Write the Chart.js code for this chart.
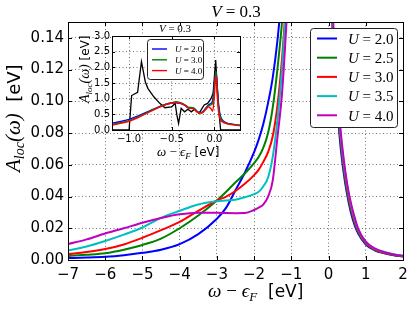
<!DOCTYPE html>
<html>
<head>
<meta charset="utf-8">
<script src="https://cdn.jsdelivr.net/npm/chart.js@4.4.1/dist/chart.umd.min.js"></script>
<style>
body{margin:0;background:#fff;}
#wrap{position:relative;width:415px;height:310px;}
#main{position:absolute;left:0;top:0;}
#inset{position:absolute;left:60px;top:15px;}
</style>
</head>
<body>
<div id="wrap">
<canvas id="main" width="415" height="310"></canvas>
<canvas id="inset" width="190" height="150"></canvas>
</div>
<script>
// main panel: omega grid and A_loc for each U
const omega = [-7, -6.5, -6, -5.5, -5, -4.5, -4, -3.5, -3, -2.75, -2.5, -2.25, -2, -1.875, -1.75, -1.625, -1.5, -1.375, -1.25, -1.125, -1, -0.5, 0, 0.1, 0.2, 0.3, 0.4, 0.5, 0.6, 0.7, 0.8, 1.0, 1.25, 1.5, 1.75, 2.0];
const uValues = [2.0, 2.5, 3.0, 3.5, 4.0];
const aU20 = [0.0012, 0.0015, 0.002, 0.003, 0.0045, 0.0065, 0.010, 0.0163, 0.026, 0.033, 0.044, 0.055, 0.068, 0.076, 0.086, 0.099, 0.115, 0.138, 0.17, 0.21, 0.27, 0.5, 0.5, 0.155, 0.11, 0.077, 0.056, 0.041, 0.030, 0.022, 0.0165, 0.0098, 0.006, 0.0042, 0.003, 0.0022];
const aU25 = [0.0025, 0.0033, 0.0043, 0.0065, 0.0095, 0.0135, 0.020, 0.028, 0.0375, 0.043, 0.049, 0.0545, 0.061, 0.065, 0.071, 0.080, 0.096, 0.12, 0.15, 0.19, 0.25, 0.5, 0.5, 0.16, 0.115, 0.081, 0.059, 0.043, 0.032, 0.0235, 0.0175, 0.0103, 0.0063, 0.0044, 0.0031, 0.0023];
const aU30 = [0.0037, 0.005, 0.0069, 0.0098, 0.014, 0.0188, 0.024, 0.031, 0.0375, 0.040, 0.0435, 0.048, 0.0535, 0.057, 0.062, 0.068, 0.078, 0.097, 0.127, 0.17, 0.23, 0.5, 0.5, 0.165, 0.118, 0.083, 0.061, 0.045, 0.033, 0.0245, 0.018, 0.0107, 0.0066, 0.0046, 0.0033, 0.0024];
const aU35 = [0.006, 0.0085, 0.012, 0.016, 0.0205, 0.0265, 0.031, 0.035, 0.037, 0.0375, 0.038, 0.0395, 0.0415, 0.043, 0.0465, 0.052, 0.065, 0.088, 0.12, 0.165, 0.22, 0.5, 0.5, 0.17, 0.122, 0.086, 0.063, 0.047, 0.035, 0.026, 0.019, 0.0113, 0.007, 0.005, 0.0036, 0.0027];
const aU40 = [0.010, 0.013, 0.0167, 0.020, 0.0235, 0.0265, 0.0288, 0.0298, 0.0298, 0.0296, 0.0295, 0.0296, 0.0315, 0.033, 0.035, 0.040, 0.050, 0.077, 0.105, 0.152, 0.21, 0.5, 0.5, 0.175, 0.125, 0.088, 0.065, 0.048, 0.036, 0.027, 0.0195, 0.0115, 0.0071, 0.0049, 0.0035, 0.0026];
const xTicks = [-7, -6, -5, -4, -3, -2, -1, 0, 1, 2];
const yTicks = [0, 0.02, 0.04, 0.06, 0.08, 0.10, 0.12, 0.14];

// inset panel
const insetOmega = [-1.2, -1.1, -1.0, -0.9, -0.8, -0.7, -0.6, -0.5, -0.45, -0.4, -0.35, -0.3, -0.25, -0.2, -0.15, -0.1, -0.07, -0.04, -0.02, 0.0, 0.01, 0.02, 0.03, 0.05, 0.07, 0.1, 0.15, 0.2, 0.3];
const insetU = [2.0, 3.0, 4.0];
const inU20 = [0.21, 0.27, 0.34, 0.44, 0.56, 0.68, 0.79, 0.86, 0.87, 0.85, 0.79, 0.70, 0.70, 0.58, 0.56, 0.70, 0.80, 0.85, 0.95, 1.5, 1.75, 1.85, 1.5, 0.8, 0.45, 0.30, 0.22, 0.19, 0.15];
const inU30 = [0.18, 0.23, 0.30, 0.41, 0.54, 0.67, 0.79, 0.87, 0.90, 0.87, 0.81, 0.72, 0.71, 0.58, 0.55, 0.68, 0.78, 0.80, 0.85, 1.35, 1.7, 1.85, 1.4, 0.7, 0.40, 0.28, 0.21, 0.18, 0.15];
const inU40 = [0.16, 0.21, 0.28, 0.39, 0.52, 0.66, 0.78, 0.86, 0.88, 0.86, 0.80, 0.70, 0.68, 0.57, 0.54, 0.66, 0.74, 0.68, 0.60, 1.1, 1.55, 1.75, 1.25, 0.55, 0.33, 0.25, 0.20, 0.17, 0.14];
const blackOmega = [-1.2, -1.0, -0.97, -0.90, -0.855, -0.81, -0.78, -0.71, -0.64, -0.58, -0.50, -0.46, -0.44, -0.42, -0.39, -0.35, -0.31, -0.27, -0.23, -0.18, -0.12, -0.08, -0.04, -0.015, 0.015, 0.046, 0.073, 0.3];
const blackA = [0, 0, 1.1, 1.2, 2.18, 1.54, 1.33, 1.06, 0.85, 0.71, 0.74, 0.85, 0.48, 0.21, 0.69, 0.58, 0.66, 0.58, 0.67, 0.53, 0.80, 0.85, 1.0, 1.17, 2.23, 0.8, 0, 0];
const insetXTicks = [-1.0, -0.5, 0.0];
const insetYTicks = [0, 0.5, 1.0, 1.5, 2.0, 2.5, 3.0];

const colors = ['#0000ff', '#008000', '#ff0000', '#00bfbf', '#bf00bf'];
const insetColors = ['#0000ff', '#008000', '#ff0000'];

Chart.defaults.font.family = 'DejaVu Sans';
Chart.defaults.color = '#000';

const SERIF = '"Liberation Serif", "DejaVu Serif", serif';
const SANS = '"DejaVu Sans", sans-serif';

function minus(s){ return s.replace('-', '\u2212'); }

// draw a list of text pieces with different fonts, optionally rotated
function richText(ctx, parts, x, y, align, angle){
  ctx.save();
  ctx.translate(x, y);
  if(angle) ctx.rotate(angle);
  let w = 0;
  parts.forEach(p => { ctx.font = p.font; p.w = ctx.measureText(p.t).width; w += p.w; });
  let cx = align === 'center' ? -w/2 : (align === 'right' ? -w : 0);
  ctx.textAlign = 'left';
  ctx.textBaseline = 'alphabetic';
  ctx.fillStyle = '#000';
  parts.forEach(p => { ctx.font = p.font; ctx.fillText(p.t, cx, p.dy || 0); cx += p.w; });
  ctx.restore();
}

function frameAndTicks(chart, len){
  const {ctx, chartArea: a, scales} = chart;
  ctx.save();
  ctx.strokeStyle = '#000';
  ctx.lineWidth = 1;
  ctx.beginPath();
  scales.x.ticks.forEach(t => {
    const px = Math.round(scales.x.getPixelForValue(t.value)) + 0.5;
    ctx.moveTo(px, a.bottom); ctx.lineTo(px, a.bottom - len);
    ctx.moveTo(px, a.top); ctx.lineTo(px, a.top + len);
  });
  scales.y.ticks.forEach(t => {
    const py = Math.round(scales.y.getPixelForValue(t.value)) + 0.5;
    ctx.moveTo(a.left, py); ctx.lineTo(a.left + len, py);
    ctx.moveTo(a.right, py); ctx.lineTo(a.right - len, py);
  });
  ctx.stroke();
  ctx.strokeRect(Math.round(a.left) + 0.5, Math.round(a.top) + 0.5, Math.round(a.right - a.left), Math.round(a.bottom - a.top));
  ctx.restore();
}

function drawLegend(chart, box, lineX, textX, rows, lw, fs){
  const ctx = chart.ctx;
  ctx.save();
  ctx.fillStyle = '#fff';
  ctx.strokeStyle = '#222';
  ctx.lineWidth = 1;
  ctx.beginPath();
  ctx.roundRect(box[0] + 0.5, box[1] + 0.5, box[2], box[3], 3);
  ctx.fill();
  ctx.stroke();
  chart.data.datasets.forEach((ds, i) => {
    if(!ds.inLegend) return;
    const y = rows[0] + i * rows[1];
    ctx.strokeStyle = ds.borderColor;
    ctx.lineWidth = lw;
    ctx.beginPath();
    ctx.moveTo(lineX[0], y); ctx.lineTo(lineX[1], y);
    ctx.stroke();
    const v = ds.label.split('= ')[1];
    richText(ctx, [
      {t: 'U', font: 'italic ' + fs + 'px ' + SERIF},
      {t: ' = ' + v, font: fs + 'px ' + SERIF}
    ], textX, y + fs * 0.35, 'left');
  });
  ctx.restore();
}

const mainDatasets = [aU20, aU25, aU30, aU35, aU40].map((s, i) => ({
  label: 'U = ' + uValues[i].toFixed(1),
  data: omega.map((x, j) => ({x: x, y: s[j]})),
  borderColor: colors[i],
  backgroundColor: colors[i],
  borderWidth: 2,
  pointRadius: 0,
  fill: false,
  cubicInterpolationMode: 'monotone',
  order: 5 - i,
  inLegend: true
}));

const mainDecor = {
  id: 'mainDecor',
  afterDatasetsDraw(chart){
    frameAndTicks(chart, 4);
    drawLegend(chart, [310, 28, 87, 99], [317, 337], 348, [38.5, 19.2], 2, 15);
  },
  afterDraw(chart){
    const ctx = chart.ctx;
    richText(ctx, [
      {t: 'V', font: 'italic 17px ' + SERIF},
      {t: ' = 0.3', font: '17px ' + SERIF}
    ], 236, 17, 'center');
    richText(ctx, [
      {t: '\u03c9', font: 'italic 19px ' + SERIF},
      {t: ' \u2212 ', font: '19px ' + SERIF},
      {t: '\u03f5', font: 'italic 19px ' + SERIF},
      {t: 'F', font: 'italic 13px ' + SERIF, dy: 4},
      {t: '  [eV]', font: '17px ' + SANS}
    ], 208, 297, 'left');
    richText(ctx, [
      {t: 'A', font: 'italic 21px ' + SERIF},
      {t: 'loc', font: 'italic 14px ' + SERIF, dy: 4},
      {t: '(\u03c9)', font: 'italic 21px ' + SERIF},
      {t: '  [eV]', font: '18px ' + SANS}
    ], 20, 172, 'left', -Math.PI / 2);
  }
};

new Chart(document.getElementById('main'), {
  type: 'line',
  data: {datasets: mainDatasets},
  options: {
    responsive: false,
    animation: false,
    devicePixelRatio: 1,
    layout: {padding: {left: 0, top: 22, right: 12, bottom: 0}},
    plugins: {legend: {display: false}, tooltip: {enabled: false}},
    scales: {
      x: {
        type: 'linear', min: -7, max: 2,
        afterBuildTicks: s => { s.ticks = xTicks.map(v => ({value: v})); },
        afterFit: s => { s.height = 50; },
        grid: {color: 'rgba(0,0,0,0.55)', lineWidth: 1, drawTicks: false},
        border: {display: false, dash: [1, 2.5]},
        ticks: {padding: 6, font: {size: 15}, color: '#000', maxRotation: 0, autoSkip: false,
          callback: v => minus(String(v))}
      },
      y: {
        type: 'linear', min: 0, max: 0.15,
        afterBuildTicks: s => { s.ticks = yTicks.map(v => ({value: v})); },
        afterFit: s => { s.width = 68; },
        grid: {color: 'rgba(0,0,0,0.55)', lineWidth: 1, drawTicks: false},
        border: {display: false, dash: [1, 2.5]},
        ticks: {padding: 4, font: {size: 15}, color: '#000', autoSkip: false,
          callback: v => v.toFixed(2)}
      }
    }
  },
  plugins: [mainDecor]
});

// inset
const insetDatasets = [{
  label: 'DMFT',
  data: blackOmega.map((x, j) => ({x: x, y: blackA[j]})),
  borderColor: '#000',
  borderWidth: 1.3,
  pointRadius: 0,
  fill: false,
  tension: 0,
  order: 4,
  inLegend: false
}].concat([inU20, inU30, inU40].map((s, i) => ({
  label: 'U = ' + insetU[i].toFixed(1),
  data: insetOmega.map((x, j) => ({x: x, y: s[j]})),
  borderColor: insetColors[i],
  borderWidth: 1.4,
  pointRadius: 0,
  fill: false,
  cubicInterpolationMode: 'monotone',
  order: 3 - i,
  inLegend: true
})));

const insetDecor = {
  id: 'insetDecor',
  beforeDraw(chart){
    const {ctx, chartArea: a} = chart;
    ctx.save();
    ctx.fillStyle = '#fff';
    ctx.fillRect(a.left, a.top, a.right - a.left, a.bottom - a.top);
    ctx.restore();
  },
  afterDatasetsDraw(chart){
    frameAndTicks(chart, 3);
    drawLegend(chart, [87, 24, 56, 40], [92, 107], 115, [34 - 10.8, 10.8], 1.4, 9);
  },
  afterDraw(chart){
    const ctx = chart.ctx;
    richText(ctx, [
      {t: 'V', font: 'italic 11px ' + SERIF},
      {t: ' = 0.3', font: '11px ' + SERIF}
    ], 115, 17, 'center');
    richText(ctx, [
      {t: '\u03c9', font: 'italic 13px ' + SERIF},
      {t: ' \u2212 ', font: '13px ' + SERIF},
      {t: '\u03f5', font: 'italic 13px ' + SERIF},
      {t: 'F', font: 'italic 9px ' + SERIF, dy: 3},
      {t: ' [eV]', font: '12px ' + SANS}
    ], 97, 141, 'left');
    richText(ctx, [
      {t: 'A', font: 'italic 14px ' + SERIF},
      {t: 'loc', font: 'italic 9px ' + SERIF, dy: 3},
      {t: '(\u03c9)', font: 'italic 14px ' + SERIF},
      {t: ' [eV]', font: '12px ' + SANS}
    ], 29, 88, 'left', -Math.PI / 2);
  }
};

new Chart(document.getElementById('inset'), {
  type: 'line',
  data: {datasets: insetDatasets},
  options: {
    responsive: false,
    animation: false,
    devicePixelRatio: 1,
    layout: {padding: {left: 0, top: 21, right: 10, bottom: 0}},
    plugins: {legend: {display: false}, tooltip: {enabled: false}},
    scales: {
      x: {
        type: 'linear', min: -1.2, max: 0.3,
        afterBuildTicks: s => { s.ticks = insetXTicks.map(v => ({value: v})); },
        afterFit: s => { s.height = 35; },
        grid: {color: 'rgba(0,0,0,0.55)', lineWidth: 1, drawTicks: false},
        border: {display: false, dash: [1, 2.5]},
        ticks: {padding: 3, font: {size: 10}, color: '#000', maxRotation: 0, autoSkip: false,
          callback: v => minus(v.toFixed(1))}
      },
      y: {
        type: 'linear', min: 0, max: 3,
        afterBuildTicks: s => { s.ticks = insetYTicks.map(v => ({value: v})); },
        afterFit: s => { s.width = 52; },
        grid: {color: 'rgba(0,0,0,0.55)', lineWidth: 1, drawTicks: false},
        border: {display: false, dash: [1, 2.5]},
        ticks: {padding: 2, font: {size: 10}, color: '#000', autoSkip: false,
          callback: v => v.toFixed(1)}
      }
    }
  },
  plugins: [insetDecor]
});
</script>
</body>
</html>
